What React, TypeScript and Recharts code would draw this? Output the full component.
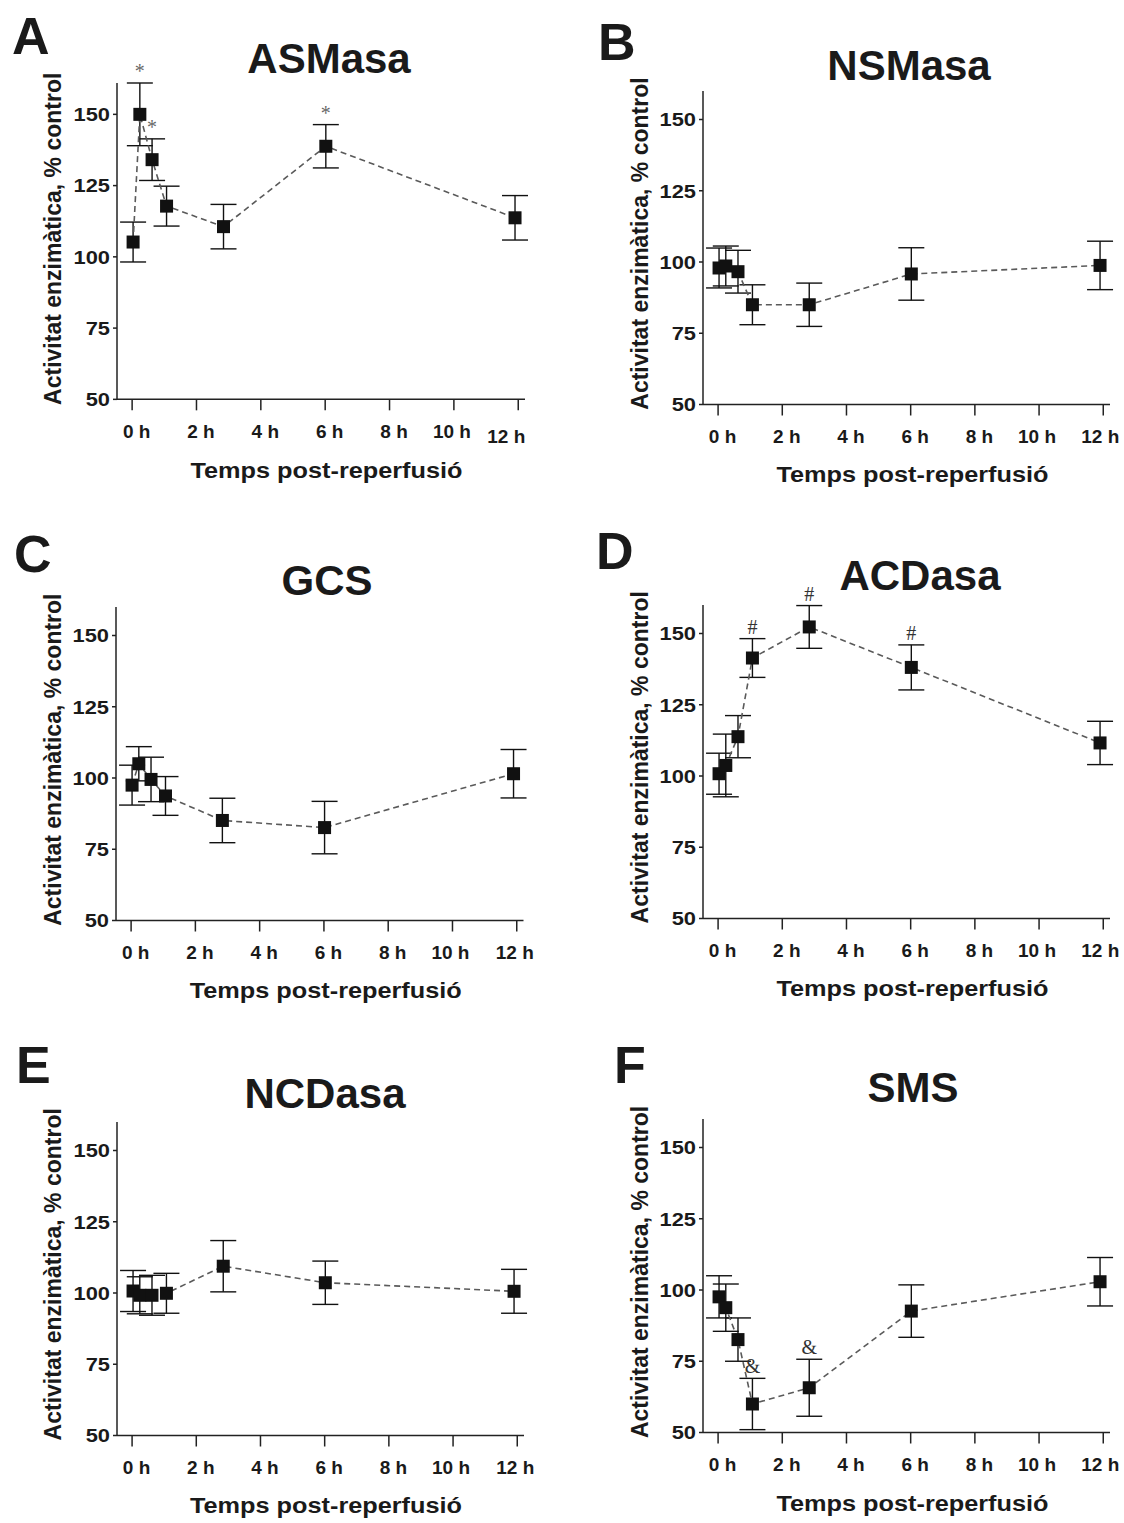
import React from "react";
import { ComposedChart, Line, ErrorBar, Scatter, XAxis, YAxis } from "recharts";

// sampling times (h after reperfusion), as placed on the time axis
const hours = [0.03, 0.24, 0.62, 1.07, 2.84, 6.02, 11.9];
const xTicks = [0, 2, 4, 6, 8, 10, 12];
const yTicks = [50, 75, 100, 125, 150];

// enzyme activity, % of control (mean and error)
const asmasaMean = [105.2, 150, 134.1, 117.8, 110.6, 138.8, 113.7];
const asmasaErr = [7, 11, 7.3, 7, 7.8, 7.6, 7.8];
const asmasaMarks = ["", "*", "*", "", "", "*", ""];

const nsmasaMean = [97.9, 98.6, 96.6, 85, 85, 95.8, 98.8];
const nsmasaErr = [7, 7, 7.5, 7, 7.6, 9.2, 8.5];

const gcsMean = [97.5, 105, 99.5, 93.7, 85.1, 82.6, 101.5];
const gcsErr = [7, 6, 7.8, 6.8, 7.8, 9.2, 8.5];

const acdasaMean = [100.8, 103.7, 113.8, 141.4, 152.3, 138.1, 111.6];
const acdasaErr = [7.2, 11, 7.4, 6.8, 7.5, 7.9, 7.6];
const acdasaMarks = ["", "", "", "#", "#", "#", ""];

const ncdasaMean = [100.7, 99.2, 99.2, 99.9, 109.4, 103.6, 100.6];
const ncdasaErr = [7.2, 6.5, 7, 7, 9, 7.6, 7.7];

const smsMean = [97.6, 93.8, 82.6, 60, 65.7, 92.6, 102.9];
const smsErr = [7.4, 8.3, 7.6, 9, 10, 9.2, 8.5];
const smsMarks = ["", "", "", "&", "&", "", ""];

const FONT = '"Liberation Sans", Arial, Helvetica, sans-serif';
const SERIF = '"Liberation Serif", "Times New Roman", serif';
const PPU = 2.85; // px per % unit on the y axis
const X_DOMAIN = [-0.47, 12.21];

const panels = [
  { letter: "A", title: "ASMasa", mean: asmasaMean, err: asmasaErr, marks: asmasaMarks, left: 116.5, right: 524.5, base: 399.5, letterAt: [12, 54], titleAt: [329, 73], lastDx: -12, lastDy: 5 },
  { letter: "B", title: "NSMasa", mean: nsmasaMean, err: nsmasaErr, marks: null, left: 703, right: 1110, base: 404.3, letterAt: [598, 60], titleAt: [909, 80], lastDx: -3, lastDy: 0 },
  { letter: "C", title: "GCS", mean: gcsMean, err: gcsErr, marks: null, left: 116, right: 523.5, base: 920.4, letterAt: [14, 572], titleAt: [327, 595], lastDx: -2, lastDy: 0 },
  { letter: "D", title: "ACDasa", mean: acdasaMean, err: acdasaErr, marks: acdasaMarks, left: 703, right: 1110, base: 918, letterAt: [596, 569], titleAt: [920, 590], lastDx: -3, lastDy: 0 },
  { letter: "E", title: "NCDasa", mean: ncdasaMean, err: ncdasaErr, marks: null, left: 116.5, right: 523.5, base: 1435, letterAt: [16, 1083], titleAt: [325, 1108], lastDx: -2, lastDy: 0 },
  { letter: "F", title: "SMS", mean: smsMean, err: smsErr, marks: smsMarks, left: 703, right: 1110, base: 1432.7, letterAt: [614, 1083], titleAt: [913, 1102], lastDx: -3, lastDy: 0 },
];

function SquareDot(props: any) {
  const { cx, cy, index } = props;
  if (cx == null || cy == null) return null;
  return <rect key={index} x={cx - 6.5} y={cy - 6.5} width={13} height={13} fill="#111" />;
}

function YTick(props: any) {
  const { x, y, payload } = props;
  return (
    <g transform={`translate(${x},${y}) scale(1.15,1)`}>
      <text x={0} y={0} dy="0.355em" textAnchor="end" fontFamily={FONT} fontSize={19} fontWeight={700} fill="#1a1a1a">
        {payload.value}
      </text>
    </g>
  );
}

function XTick(props: any) {
  const { x, y, payload, lastDx, lastDy } = props;
  const v = payload.value;
  const dx = v === 12 ? lastDx : v >= 10 ? -2 : 4.5;
  const dy = v === 12 ? lastDy : 0;
  return (
    <text x={x + dx} y={y + dy} dy="0.71em" textAnchor="middle" fontFamily={FONT} fontSize={19} fontWeight={700} fill="#1a1a1a">
      {`${v} h`}
    </text>
  );
}

function MarkShape(props: any) {
  const { cx, cy, payload } = props;
  if (!payload || !payload.mark) return null;
  const fill = payload.mark === "*" ? "#666" : "#333";
  return (
    <text x={cx} y={cy - 5} textAnchor="middle" fontFamily={SERIF} fontSize={20} fill={fill}>
      {payload.mark}
    </text>
  );
}

function Panel({ p }: { p: any }) {
  const rows = hours.map((t, i) => ({
    t,
    v: p.mean[i],
    e: p.err[i],
    markY: p.mean[i] + p.err[i],
    mark: p.marks ? p.marks[i] : "",
  }));
  const marked = rows.filter((r) => r.mark);
  const top = Math.max(160, ...rows.map((r) => r.v + r.e));
  const plotH = (top - 50) * PPU;
  const w = 70 + (p.right - p.left) + 10;
  const h = 30 + plotH + 50;
  const axisStyle = { stroke: "#222", strokeWidth: 1.5 };

  return (
    <div style={{ position: "absolute", left: p.left - 70, top: p.base - plotH - 30 }}>
      <ComposedChart width={w} height={h} data={rows} margin={{ top: 30, right: 10, bottom: 0, left: 0 }}>
        <XAxis
          type="number"
          dataKey="t"
          domain={X_DOMAIN}
          ticks={xTicks}
          height={50}
          tickSize={11}
          tickMargin={14}
          axisLine={axisStyle}
          tickLine={axisStyle}
          tick={<XTick lastDx={p.lastDx} lastDy={p.lastDy} />}
          interval={0}
        />
        <YAxis
          type="number"
          domain={[50, top]}
          ticks={yTicks}
          width={70}
          tickSize={4}
          tickMargin={3}
          axisLine={axisStyle}
          tickLine={axisStyle}
          tick={<YTick />}
          interval={0}
        />
        <Line
          type="linear"
          dataKey="v"
          stroke="#5a5a5a"
          strokeWidth={1.6}
          strokeDasharray="6 4"
          dot={<SquareDot />}
          activeDot={false}
          isAnimationActive={false}
        >
          <ErrorBar dataKey="e" direction="y" width={13} stroke="#111" strokeWidth={1.4} isAnimationActive={false} />
        </Line>
        {marked.length > 0 && (
          <Scatter data={marked} dataKey="markY" shape={<MarkShape />} isAnimationActive={false} />
        )}
      </ComposedChart>
    </div>
  );
}

export default function App() {
  return (
    <div style={{ position: "absolute", left: 0, top: 0, width: 1124, height: 1523, background: "#fff" }}>
      {panels.map((p) => (
        <Panel key={p.letter} p={p} />
      ))}
      <svg width={1124} height={1523} style={{ position: "absolute", left: 0, top: 0, pointerEvents: "none" }}>
        {panels.map((p) => {
          const cx = (p.left + p.right) / 2;
          return (
            <g key={p.letter} fontFamily={FONT} fontWeight={700} fill="#1a1a1a">
              <text x={p.letterAt[0]} y={p.letterAt[1]} fontSize={52}>
                {p.letter}
              </text>
              <text x={p.titleAt[0]} y={p.titleAt[1]} fontSize={42} textAnchor="middle">
                {p.title}
              </text>
              <text transform={`translate(${p.left - 55.5},${p.base - 160.75}) rotate(-90)`} fontSize={23} textAnchor="middle">
                Activitat enzimàtica, % control
              </text>
              <text transform={`translate(${cx + 6},${p.base + 78}) scale(1.15,1)`} fontSize={22} textAnchor="middle">
                Temps post-reperfusió
              </text>
            </g>
          );
        })}
      </svg>
    </div>
  );
}
